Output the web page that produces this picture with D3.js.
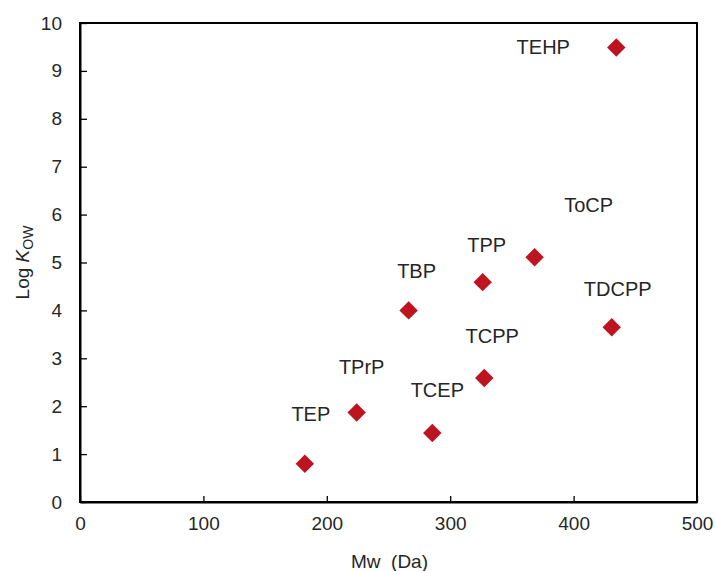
<!DOCTYPE html>
<html>
<head>
<meta charset="utf-8">
<script src="https://cdn.jsdelivr.net/npm/d3@7"></script>
<style>
  html, body { margin: 0; padding: 0; background: #fff; }
  svg text { font-family: "Liberation Sans", Arial, sans-serif; }
</style>
</head>
<body>
<svg id="chart" width="716" height="571"></svg>
<script>
// ---- data ----
const compounds = ["TEP", "TPrP", "TBP", "TCEP", "TPP", "TCPP", "ToCP", "TDCPP", "TEHP"];
const mw        = [182.2, 224.2, 266.3, 285.5, 326.3, 327.6, 368.4, 430.9, 434.6];
const logKow    = [0.80, 1.87, 4.00, 1.44, 4.59, 2.59, 5.11, 3.65, 9.49];
const labelNames = ["TEP", "TPrP", "TBP", "TCEP", "TPP", "TCPP", "ToCP", "TDCPP", "TEHP"];
const xTicks = [0, 100, 200, 300, 400, 500];
const yTicks = [0, 1, 2, 3, 4, 5, 6, 7, 8, 9, 10];

// label offsets (pixels, relative to marker) - styling only
const labelDx = [6, 5, 8, 5, 4, 8, 54, 6, -73];
const labelDy = [-50, -45, -39, -43, -37, -42, -52, -38, 0];

const margin = { left: 80, right: 19, top: 23, bottom: 69 };
const W = 716, H = 571;
const svg = d3.select("#chart");

const x = d3.scaleLinear().domain([0, 500]).range([margin.left, W - margin.right]);
const y = d3.scaleLinear().domain([0, 10]).range([H - margin.bottom, margin.top]);

const textColor = "#262626";
const axisColor = "#000";

// frame
svg.append("rect")
  .attr("x", x(0)).attr("y", y(10))
  .attr("width", x(500) - x(0)).attr("height", y(0) - y(10))
  .attr("fill", "none").attr("stroke", axisColor).attr("stroke-width", 2);

// axes
const xAxis = svg.append("g").attr("transform", `translate(0,${y(0)})`)
  .call(d3.axisBottom(x).tickValues(xTicks).tickSizeInner(-6).tickSizeOuter(0).tickPadding(15).tickFormat(d3.format("d")));
const yAxis = svg.append("g").attr("transform", `translate(${x(0)},0)`)
  .call(d3.axisLeft(y).tickValues(yTicks).tickSizeInner(-7).tickSizeOuter(0).tickPadding(18).tickFormat(d3.format("d")));

[xAxis, yAxis].forEach(g => {
  g.select(".domain").attr("stroke", axisColor).attr("stroke-width", 2);
  g.selectAll(".tick line").attr("stroke", axisColor).attr("stroke-width", 1.3);
  g.selectAll(".tick text").attr("fill", textColor).style("font-size", "19px");
});
xAxis.selectAll(".tick text").attr("dy", "0.71em");

// axis titles
svg.append("text")
  .attr("x", (x(0) + x(500)) / 2 + 1).attr("y", 568)
  .attr("text-anchor", "middle").attr("fill", textColor).style("font-size", "19px")
  .attr("xml:space", "preserve")
  .text("Mw  (Da)");

const yt = svg.append("text")
  .attr("transform", `translate(29,${(y(0) + y(10)) / 2}) rotate(-90)`)
  .attr("text-anchor", "middle").attr("fill", textColor).style("font-size", "19px");
yt.append("tspan").text("Log ");
yt.append("tspan").attr("font-style", "italic").text("K");
yt.append("tspan").attr("dy", "0.3em").style("font-size", "14px").text("OW");

// markers
const idx = d3.range(compounds.length);
const sq = d3.symbol().type(d3.symbolSquare).size(170);
svg.append("g").selectAll("path").data(idx).join("path")
  .attr("d", sq)
  .attr("transform", i => `translate(${x(mw[i])},${y(logKow[i])}) rotate(45)`)
  .attr("fill", "#be1420");

// labels
svg.append("g").selectAll("text").data(idx).join("text")
  .attr("x", i => x(mw[i]) + labelDx[i])
  .attr("y", i => y(logKow[i]) + labelDy[i])
  .attr("dy", "0.35em")
  .attr("text-anchor", "middle")
  .attr("fill", textColor)
  .style("font-size", "20px")
  .text(i => labelNames[i]);
</script>
</body>
</html>
